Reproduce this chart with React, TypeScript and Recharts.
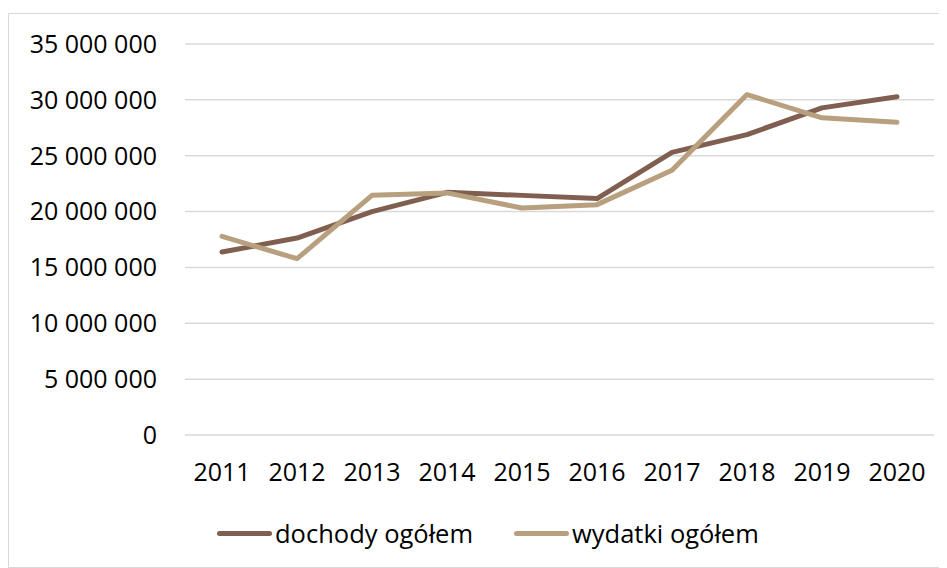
import { CartesianGrid, Legend, Line, LineChart, XAxis, YAxis } from "recharts";

const years = ["2011", "2012", "2013", "2014", "2015", "2016", "2017", "2018", "2019", "2020"];
const dochody = [16380000, 17630000, 20000000, 21720000, 21450000, 21160000, 25300000, 26890000, 29280000, 30270000];
const wydatki = [17780000, 15780000, 21450000, 21670000, 20320000, 20620000, 23690000, 30470000, 28390000, 27990000];
const yTicks = [0, 5000000, 10000000, 15000000, 20000000, 25000000, 30000000, 35000000];

const series = [
  { key: "dochody", name: "dochody ogółem", color: "#805f51" },
  { key: "wydatki", name: "wydatki ogółem", color: "#b8a07e" },
];

const data = years.map((year, i) => ({ year, dochody: dochody[i], wydatki: wydatki[i] }));

const font = "'Open Sans', sans-serif";

const formatNumber = (v: number) => String(v).replace(/\B(?=(\d{3})+(?!\d))/g, " ");

function ChartLegend() {
  return (
    <div style={{ display: "flex", alignItems: "center", height: 40, paddingLeft: 208, fontFamily: font, fontSize: 25.5, color: "#000" }}>
      {series.map((s, i) => (
        <div key={s.key} style={{ display: "flex", alignItems: "center", marginLeft: i === 0 ? 0 : 41 }}>
          <span style={{ display: "inline-block", width: 55, height: 5, borderRadius: 3, background: s.color, marginRight: 3 }} />
          <span>{s.name}</span>
        </div>
      ))}
    </div>
  );
}

export default function App() {
  return (
    <div style={{ paddingTop: 5 }}>
      <div style={{ width: 937, height: 553, border: "1px solid #d9d9d9", background: "#fff" }}>
        <LineChart width={937} height={553} data={data} margin={{ top: 30, right: 12, left: 0, bottom: 14 }}>
          <CartesianGrid vertical={false} stroke="#d9d9d9" strokeWidth={1.5} />
          <XAxis
            dataKey="year"
            height={78}
            padding={{ left: 37, right: 37 }}
            axisLine={false}
            tickLine={false}
            tickSize={0}
            tickMargin={28}
            interval={0}
            tick={{ fill: "#000", fontSize: 25, fontFamily: font }}
          />
          <YAxis
            width={176}
            domain={[0, 35000000]}
            ticks={yTicks}
            axisLine={false}
            tickLine={false}
            tickSize={0}
            tickMargin={28}
            tickFormatter={formatNumber}
            tick={{ fill: "#000", fontSize: 25, fontFamily: font }}
          />
          <Legend verticalAlign="bottom" content={() => <ChartLegend />} wrapperStyle={{ left: 0, width: 937 }} />
          {series.map((s) => (
            <Line
              key={s.key}
              type="linear"
              dataKey={s.key}
              name={s.name}
              stroke={s.color}
              strokeWidth={5}
              strokeLinecap="round"
              strokeLinejoin="round"
              dot={false}
              activeDot={false}
              isAnimationActive={false}
            />
          ))}
        </LineChart>
      </div>
    </div>
  );
}
